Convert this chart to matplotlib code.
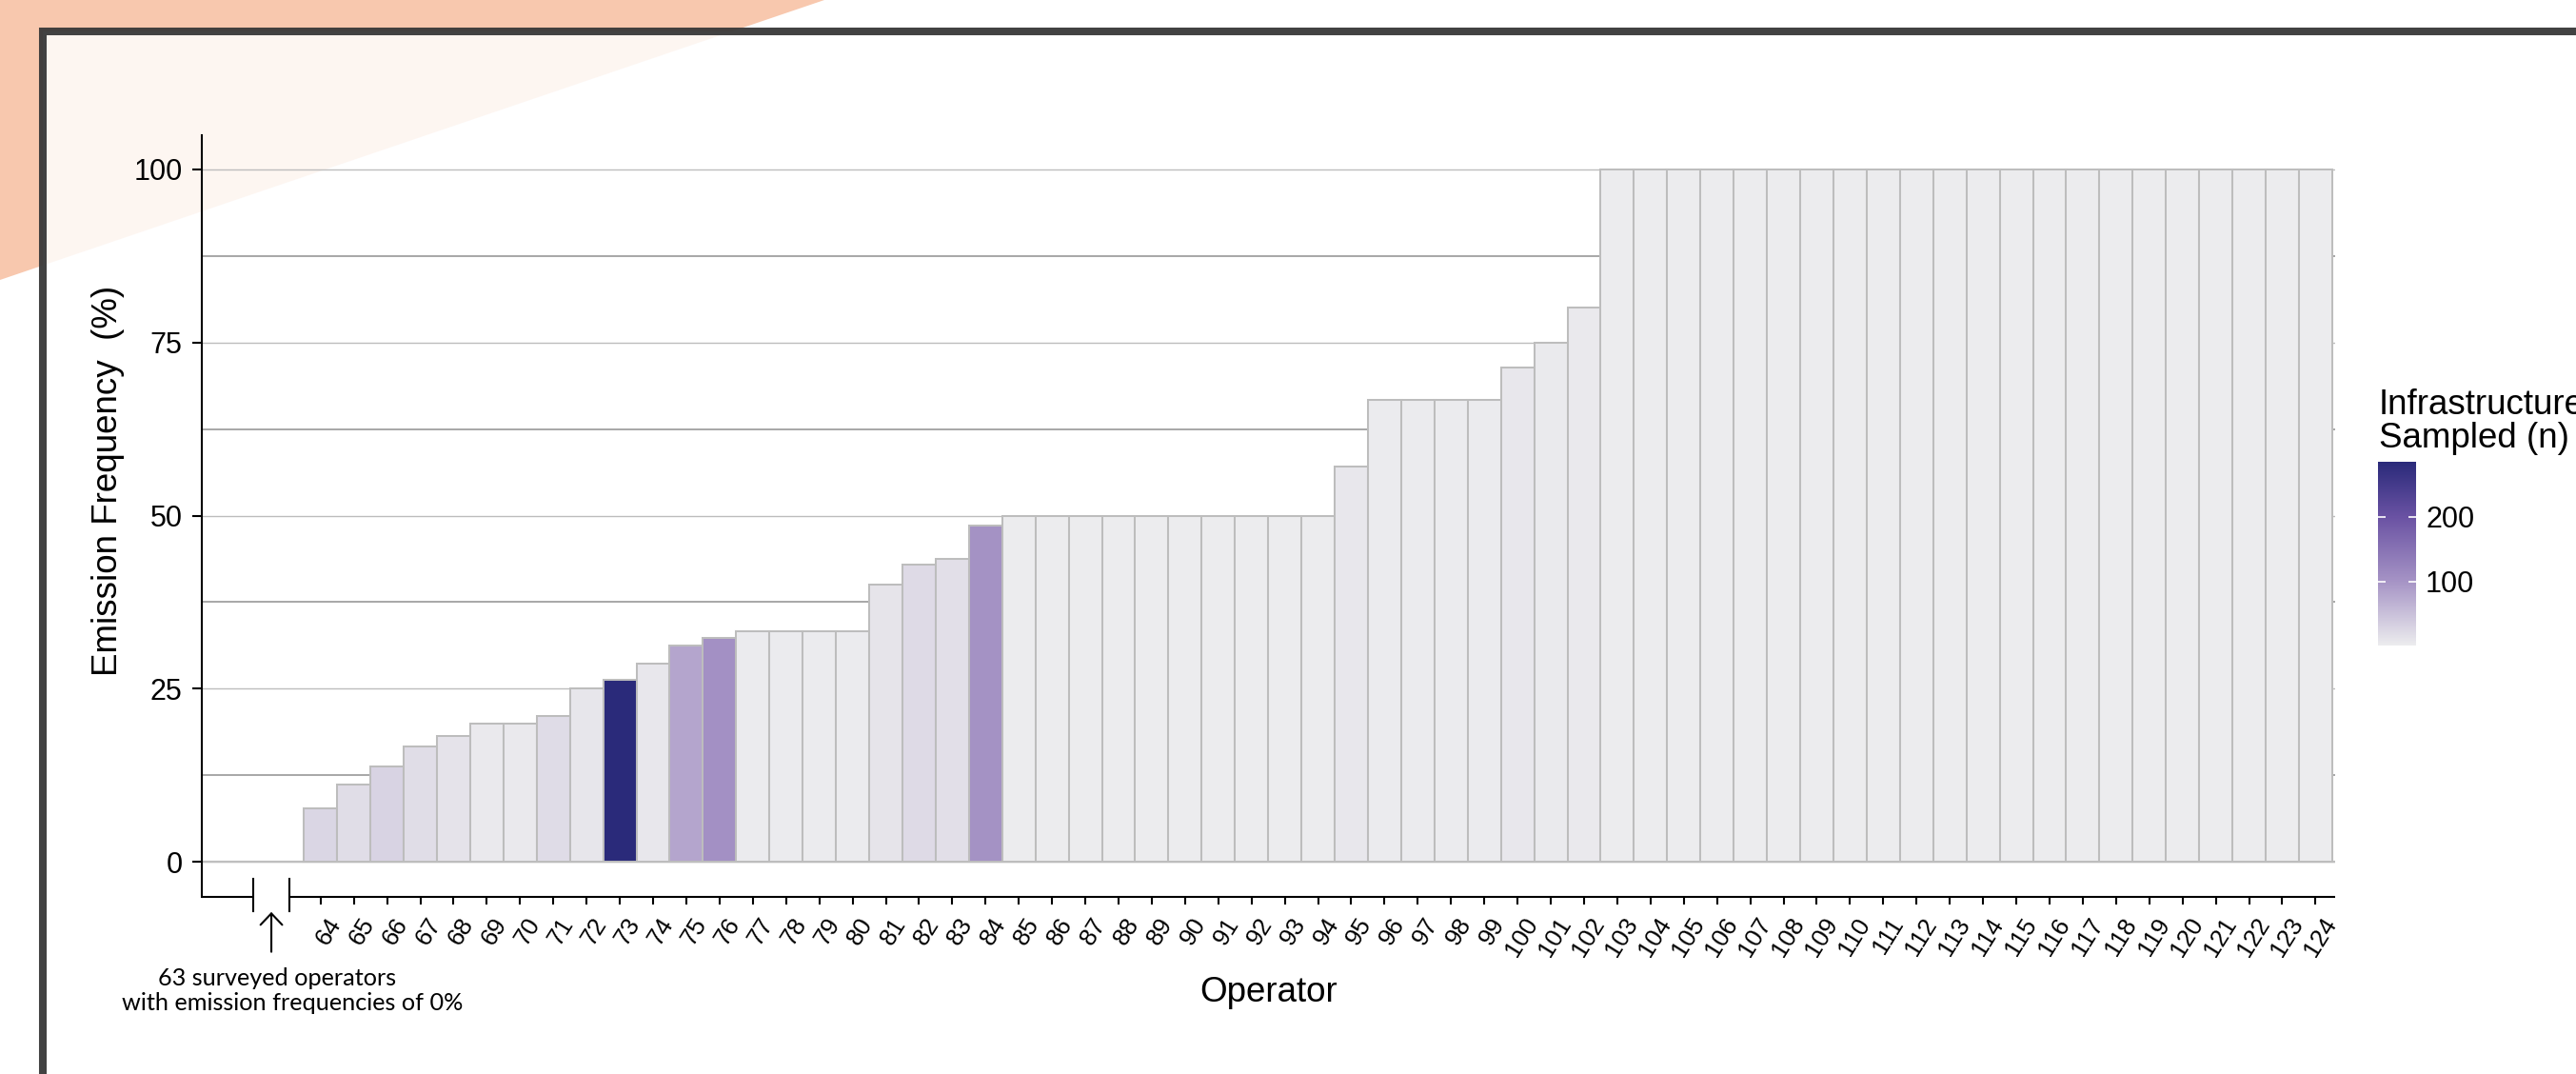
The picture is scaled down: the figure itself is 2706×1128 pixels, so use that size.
import numpy as np
import matplotlib
matplotlib.use("Agg")
import matplotlib.pyplot as plt
from matplotlib.patches import Polygon, Rectangle
from matplotlib.colors import LinearSegmentedColormap, Normalize
from matplotlib.cm import ScalarMappable
from matplotlib import transforms

plt.rcParams['font.family'] = ['Liberation Sans', 'DejaVu Sans']

# operators 64..124 (63 others have 0 %)
operators = list(range(64, 125))
emission_freq = [7.7, 11.1, 13.8, 16.7, 18.2, 20.0, 20.0, 21.1, 25.0, 26.3,
                 28.6, 31.25, 32.4, 33.3, 33.3, 33.3, 33.3, 40.0, 42.9, 43.75,
                 48.5,
                 50, 50, 50, 50, 50, 50, 50, 50, 50, 50,
                 57.1, 66.7, 66.7, 66.7, 66.7, 71.4, 75.0, 80.0] + [100] * 22
n_sampled = [26, 18, 29, 18, 11, 5, 5, 19, 8, 285,
             7, 80, 105, 3, 3, 3, 3, 10, 21, 16,
             103,
             2, 2, 2, 2, 2, 2, 2, 2, 2, 2,
             7, 3, 3, 3, 3, 7, 4, 5] + [1] * 22
cbar_ticks = [100, 200]

W, H = 2706, 1128
fig = plt.figure(figsize=(W / 100, H / 100), dpi=100)

# background decoration: orange corner + framed panel
tri = Polygon([(0, 1), (866 / W, 1), (0, 1 - 294 / H)], closed=True,
              transform=fig.transFigure, facecolor='#F8C8AE', edgecolor='none', zorder=-3)
fig.add_artist(tri)
frame = Rectangle((45 / W, -0.2), 1.3, 1.2 - 33 / H, transform=fig.transFigure,
                  facecolor=(1, 1, 1, 0.84), edgecolor=(0.22, 0.22, 0.22, 0.95),
                  linewidth=5.8, zorder=-2)
fig.add_artist(frame)

ax = fig.add_axes([211.7 / W, 1 - 941.5 / H, (2453 - 211.7) / W, 800 / H])
ax.patch.set_alpha(0)

cmap = LinearSegmentedColormap.from_list(
    'infra', [(0.0, '#ECECEE'), (0.35, '#A593C5'), (0.7, '#6A52A3'), (1.0, '#2A2A7A')])
norm = Normalize(vmin=min(n_sampled), vmax=max(n_sampled))

ax.bar(operators, emission_freq, width=1.0, color=cmap(norm(np.array(n_sampled))),
       edgecolor='#BDBDBD', linewidth=1.45, zorder=3)

ax.set_xlim(60.42, 124.59)
ax.set_ylim(-5, 105)

ax.set_yticks([0, 25, 50, 75, 100])
ax.set_yticks([12.5, 37.5, 62.5, 87.5], minor=True)
ax.grid(which='major', axis='y', color='#BDBDBD', linewidth=1.0, zorder=0)
ax.grid(which='minor', axis='y', color='#A9A9A9', linewidth=1.45, zorder=0)
ax.axhline(0, color='#BFBFBF', linewidth=1.6, zorder=1)
ax.set_axisbelow(True)

for s in ['top', 'right', 'bottom']:
    ax.spines[s].set_visible(False)
ax.spines['left'].set_linewidth(1.5)

ax.tick_params(axis='y', which='major', length=7.2, width=1.5, labelsize=22, pad=7.2)
ax.tick_params(axis='y', which='minor', length=0)

ax.set_xticks(operators)
ax.set_xticklabels([str(o) for o in operators])
ax.tick_params(axis='x', length=5.8, width=1.5, labelsize=18.5, pad=11.9)
shift = transforms.ScaledTranslation(0.16, 0, fig.dpi_scale_trans)
for lbl in ax.get_xticklabels():
    lbl.set_rotation(58)
    lbl.set_ha('right')
    lbl.set_va('center')
    lbl.set_rotation_mode('anchor')
    lbl.set_transform(lbl.get_transform() + shift)

# broken x axis line
ax.plot([60.42, 61.98], [-5, -5], color='k', lw=1.5, clip_on=False, solid_capstyle='butt')
ax.plot([63.07, 124.59], [-5, -5], color='k', lw=1.5, clip_on=False, solid_capstyle='butt')
for xb in [61.98, 63.07]:
    ax.plot([xb, xb], [-2.52, -7.11], color='k', lw=1.5, clip_on=False)
ax.annotate('', xy=(62.52, -7.25), xytext=(62.52, -13.0), annotation_clip=False,
            arrowprops=dict(arrowstyle='->,head_length=0.43,head_width=0.41',
                            lw=1.5, color='k', shrinkA=0, shrinkB=0, mutation_scale=20))

note_tr = transforms.blended_transform_factory(ax.transData, fig.dpi_scale_trans)
ax.text(62.7, (H - 1035) / 100, '63 surveyed operators', transform=note_tr,
        ha='center', va='baseline', fontsize=18.2, family=['Lato', 'DejaVu Sans'])
ax.text(63.15, (H - 1061) / 100, 'with emission frequencies of 0%', transform=note_tr,
        ha='center', va='baseline', fontsize=18.2, family=['Lato', 'DejaVu Sans'])

ax.set_ylabel('Emission Frequency  (%)', fontsize=26.5)
ax.yaxis.set_label_coords(-0.036, 0.5456)
ax.set_xlabel('Operator', fontsize=26.5)
ax.xaxis.set_label_coords(0.5, -0.1045)

# colour legend
cax = fig.add_axes([2498 / W, 1 - 678 / H, 40 / W, 193 / H])
cb = fig.colorbar(ScalarMappable(norm=norm, cmap=cmap), cax=cax)
cb.set_ticks(cbar_ticks)
cb.minorticks_off()
cb.outline.set_visible(False)
cax.tick_params(direction='in', length=5.8, width=1.2, color='white',
                left=True, right=True, labelleft=False, labelright=True,
                labelsize=22, labelcolor='black', pad=7.2)
fig.text(2499 / W, 1 - 408 / H, 'Infrastructure\nSampled (n)', ha='left', va='top',
         fontsize=26.5, linespacing=1.0)

fig.savefig('out.png', dpi=100)
